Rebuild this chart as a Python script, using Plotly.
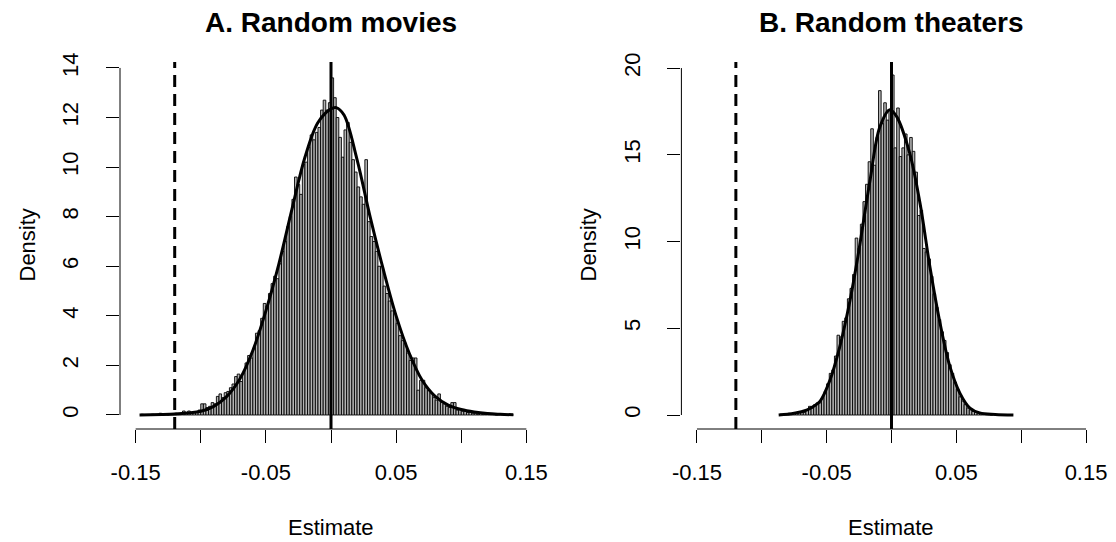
import plotly.graph_objects as go

# ---------------- data ----------------
bin_width = 0.002

# Panel A: Random movies (histogram densities, bins of width 0.002, first centre -0.145)
a_first_center = -0.145
a_density = [
    0.03, 0, 0, 0, 0.03,
    0, 0, 0.07, 0, 0.03,
    0, 0.03, 0.03, 0.07, 0.03,
    0.07, 0.16, 0.07, 0.16, 0.1,
    0.13, 0.1, 0.2, 0.45, 0.45,
    0.3, 0.35, 0.5, 0.45, 0.75,
    0.85, 0.7, 0.9, 0.95, 1.1,
    1.25, 1.55, 1.65, 1.35, 1.7,
    2.1, 2.4, 2.3, 2.7, 3.3,
    3.4, 3.9, 4.5, 4.4, 4.9,
    5.3, 5.6, 5.5, 6.1, 6.6,
    7.0, 7.6, 8.0, 8.7, 9.6,
    9.3, 8.9, 10.1, 10.2, 10.8,
    11.3, 11.1, 11.4, 11.6, 12.3,
    12.7, 12.3, 12.6, 13.6, 12.8,
    12.0, 11.2, 10.4, 11.5, 11.8,
    11.0, 10.3, 9.8, 9.2, 8.8,
    8.5, 10.3, 7.8, 7.2, 7.0,
    6.6, 6.0, 6.0, 5.2, 4.9,
    4.6, 4.2, 4.1, 3.7, 3.2,
    3.0, 2.9, 2.5, 2.2, 2.3,
    2.3, 1.0, 1.4, 1.4, 1.1,
    1.0, 0.9, 0.7, 0.6, 0.85,
    0.5, 0.45, 0.35, 0.3, 0.5,
    0.5, 0.2, 0.25, 0.15, 0.15,
    0.1, 0.1, 0.07, 0.07, 0.03,
    0.07, 0.03, 0.03, 0.07, 0.03,
    0.03, 0, 0.03, 0.03, 0,
    0, 0.03, 0,
]
a_curve_x = [-0.147, -0.13, -0.12, -0.11, -0.10, -0.09, -0.08, -0.07, -0.06, -0.05,
             -0.04, -0.03, -0.02, -0.01, 0.0, 0.004, 0.01, 0.02, 0.03, 0.04,
             0.05, 0.06, 0.07, 0.08, 0.09, 0.10, 0.11, 0.12, 0.13, 0.14]
a_curve_y = [0.0, 0.02, 0.04, 0.08, 0.15, 0.35, 0.75, 1.45, 2.6, 4.2,
             6.1, 8.3, 10.4, 11.8, 12.35, 12.4, 12.1, 10.3, 8.0, 5.9,
             4.0, 2.5, 1.4, 0.75, 0.4, 0.22, 0.12, 0.06, 0.03, 0.01]

# Panel B: Random theaters
b_first_center = -0.085
b_density = [
    0.05, 0, 0.05, 0.1, 0.05,
    0.1, 0.1, 0.15, 0.2, 0.15,
    0.3, 0.5, 0.4, 0.6, 0.7,
    0.7, 1.0, 1.35, 1.8, 2.4,
    2.6, 3.4, 4.6, 4.5, 5.4,
    5.6, 6.7, 7.3, 8.1, 10.2,
    9.6, 11.0, 12.3, 13.3, 14.6,
    16.5, 14.4, 16.0, 18.7, 16.8,
    18.0, 17.0, 17.6, 19.6, 15.4,
    17.7, 14.9, 15.4, 16.2, 15.0,
    16.0, 15.2, 14.0, 11.5, 11.8,
    9.6, 9.4, 9.0, 8.0, 7.0,
    6.2, 5.5, 4.8, 4.3, 3.6,
    2.9, 2.4, 1.9, 1.5, 1.05,
    0.8, 0.6, 0.4, 0.3, 0.2,
    0.15, 0.1, 0.1, 0.05, 0.05,
    0.05, 0,
]
b_curve_x = [-0.087, -0.075, -0.065, -0.06, -0.055, -0.0475, -0.04, -0.032, -0.026, -0.0166,
             -0.009, -0.0012, 0.004, 0.014, 0.022, 0.0297, 0.0374, 0.045, 0.0528, 0.0605,
             0.068, 0.08, 0.094]
b_curve_y = [0.0, 0.1, 0.3, 0.5, 0.8, 2.0, 3.9, 6.6, 9.1, 13.5,
             16.6, 17.6, 17.2, 15.1, 12.2, 8.5, 5.3, 2.8, 1.25, 0.4,
             0.12, 0.03, 0.0]

observed_estimate = -0.12   # dashed line
null_center = 0.0           # solid line

x_ticks = [-0.15, -0.10, -0.05, 0.0, 0.05, 0.10, 0.15]
x_tick_text = ["-0.15", "", "-0.05", "", "0.05", "", "0.15"]
a_y_ticks = [0, 2, 4, 6, 8, 10, 12, 14]
b_y_ticks = [0, 5, 10, 15, 20]

titles = ["A. Random movies", "B. Random theaters"]
x_title = "Estimate"
y_title = "Density"

# ---------------- figure ----------------
W, H = 1116, 542
FONT = "Liberation Sans, Arial, Helvetica, sans-serif"

def centers(first, n):
    return [round(first + i * bin_width, 4) for i in range(n)]

fig = go.Figure()

panels = [
    dict(xa="x", ya="y", dens=a_density, first=a_first_center, cx=a_curve_x, cy=a_curve_y),
    dict(xa="x2", ya="y2", dens=b_density, first=b_first_center, cx=b_curve_x, cy=b_curve_y),
]
for p in panels:
    fig.add_trace(go.Bar(
        x=centers(p["first"], len(p["dens"])), y=p["dens"], width=bin_width,
        marker=dict(color="#b4b4b4", line=dict(color="black", width=0.9)),
        xaxis=p["xa"], yaxis=p["ya"], showlegend=False, hoverinfo="skip"))
    fig.add_trace(go.Scatter(
        x=p["cx"], y=p["cy"], mode="lines", line=dict(color="black", width=3, shape="spline"),
        xaxis=p["xa"], yaxis=p["ya"], showlegend=False, hoverinfo="skip"))

y0d = (H - 429) / H
y1d = (H - 62) / H
xdomA = [120 / W, 542 / W]
xdomB = [681.4 / W, 1101.6 / W]

common_x = dict(range=[-0.162, 0.162], tickvals=x_ticks, ticktext=x_tick_text,
                ticks="outside", ticklen=13, tickwidth=1, tickcolor="black",
                showline=False, showgrid=False, zeroline=False, automargin=False,
                tickfont=dict(family=FONT, size=22, color="black"),
                ticklabelstandoff=11)
common_y = dict(ticks="outside", ticklen=13, tickwidth=1, tickcolor="black",
                showline=False, showgrid=False, zeroline=False, tickangle=-90, automargin=False,
                tickfont=dict(family=FONT, size=22, color="black"),
                ticklabelstandoff=19)

fig.update_layout(
    width=W, height=H, margin=dict(l=0, r=0, t=0, b=0, autoexpand=False),
    paper_bgcolor="white", plot_bgcolor="white", barmode="overlay",
    xaxis=dict(domain=xdomA, anchor="y", **common_x),
    yaxis=dict(domain=[y0d, y1d], anchor="x", range=[-0.565, 14.24], tickvals=a_y_ticks, **common_y),
    xaxis2=dict(domain=xdomB, anchor="y2", **common_x),
    yaxis2=dict(domain=[y0d, y1d], anchor="x2", range=[-0.807, 20.35], tickvals=b_y_ticks, **common_y),
)

shapes = []
for xa, ya, yt in [("x", "y", a_y_ticks), ("x2", "y2", b_y_ticks)]:
    shapes.append(dict(type="line", xref=xa, yref=ya + " domain", x0=x_ticks[0], x1=x_ticks[-1],
                       y0=0, y1=0, line=dict(color="black", width=1)))
    shapes.append(dict(type="line", xref=xa + " domain", yref=ya, x0=0, x1=0,
                       y0=yt[0], y1=yt[-1], line=dict(color="black", width=1)))
    shapes.append(dict(type="line", xref=xa, yref=ya + " domain", x0=observed_estimate, x1=observed_estimate,
                       y0=0, y1=1, line=dict(color="black", width=3, dash="12px,7px")))
    shapes.append(dict(type="line", xref=xa, yref=ya + " domain", x0=null_center, x1=null_center,
                       y0=0, y1=1, line=dict(color="black", width=3)))
fig.update_layout(shapes=shapes)

annotations = []
for dom, t, yx in [(xdomA, titles[0], 27 / W), (xdomB, titles[1], 588 / W)]:
    cx = (dom[0] + dom[1]) / 2
    annotations.append(dict(text="<b>" + t + "</b>", xref="paper", yref="paper", x=cx, y=(H - 22) / H,
                            showarrow=False, xanchor="center", yanchor="middle",
                            font=dict(family=FONT, size=28, color="black")))
    annotations.append(dict(text=x_title, xref="paper", yref="paper", x=cx, y=(H - 527) / H,
                            showarrow=False, xanchor="center", yanchor="middle",
                            font=dict(family=FONT, size=22, color="black")))
    annotations.append(dict(text=y_title, xref="paper", yref="paper", x=yx, y=(y0d + y1d) / 2,
                            showarrow=False, xanchor="center", yanchor="middle", textangle=-90,
                            font=dict(family=FONT, size=22, color="black")))
fig.update_layout(annotations=annotations)

fig.write_html("out.html", config={"displayModeBar": False, "staticPlot": True},
               post_script="document.body.style.margin='0';document.body.style.overflow='hidden';")
